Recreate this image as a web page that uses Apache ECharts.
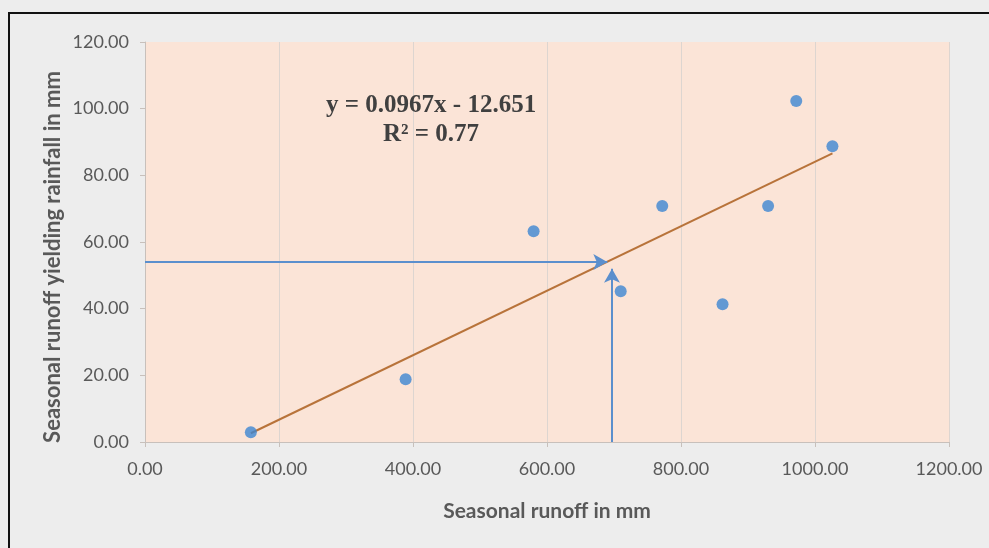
<!DOCTYPE html>
<html>
<head>
<meta charset="utf-8">
<script src="https://cdn.jsdelivr.net/npm/echarts@6/dist/echarts.min.js"></script>
<style>
  html, body { margin: 0; padding: 0; background: #ededed; }
  #chart { width: 989px; height: 548px; }
</style>
</head>
<body>
<div id="chart"></div>
<script>
// ---- data ----
var runoff   = [158, 389, 580, 710, 772, 862, 930, 972, 1026];
var rainfall = [2.9, 18.8, 63.2, 45.2, 70.8, 41.3, 70.8, 102.3, 88.7];
var xTicks = [0, 200, 400, 600, 800, 1000, 1200];
var yTicks = [0, 20, 40, 60, 80, 100, 120];
var slope = 0.0967, intercept = -12.651;
var trendX = [158, 1026];
var equationText = 'y = 0.0967x - 12.651';
var r2Text = 'R² = 0.77';
var xTitle = 'Seasonal runoff in mm';
var yTitle = 'Seasonal runoff yielding rainfall in mm';
var guideY = 54.0, guideXEnd = 690;      // horizontal reading arrow
var guideX = 697, guideYEnd = 52;        // vertical reading arrow

var points = runoff.map(function (x, i) { return [x, rainfall[i]]; });
var trend = trendX.map(function (x) { return [x, slope * x + intercept]; });

var chart = echarts.init(document.getElementById('chart'));
var labelFont = 'Lato, "Open Sans", sans-serif';
chart.setOption({
  backgroundColor: '#ededed',
  animation: false,
  grid: { left: 145, right: 40, top: 42, bottom: 106, show: true, backgroundColor: '#fbe4d7', borderWidth: 0 },
  xAxis: {
    type: 'value', min: 0, max: 1200, interval: 200,
    name: xTitle, nameLocation: 'middle', nameGap: 59,
    nameTextStyle: { fontFamily: labelFont, fontWeight: 'bold', fontSize: 21, color: '#595959' },
    axisLine: { show: true, lineStyle: { color: '#c8c0bb', width: 1 } },
    axisTick: { show: true, length: 5, lineStyle: { color: '#c8c0bb' } },
    axisLabel: { margin: 18, fontFamily: labelFont, fontSize: 18, color: '#595959',
      formatter: function (v) { return v.toFixed(2); } },
    splitLine: { show: true, lineStyle: { color: '#ddd5d0', width: 1 } }
  },
  yAxis: {
    type: 'value', min: 0, max: 120, interval: 20,
    axisLine: { show: true, lineStyle: { color: '#c8c0bb', width: 1 } },
    axisTick: { show: true, length: 5, lineStyle: { color: '#c8c0bb' } },
    axisLabel: { margin: 16, fontFamily: labelFont, fontSize: 18, color: '#595959',
      formatter: function (v) { return v.toFixed(2); } },
    splitLine: { show: false }
  },
  graphic: [
    { type: 'line', shape: { x1: 8, y1: 13, x2: 989, y2: 13 }, style: { stroke: '#111', lineWidth: 2 }, z: 100 },
    { type: 'line', shape: { x1: 9, y1: 12, x2: 9, y2: 548 }, style: { stroke: '#111', lineWidth: 2 }, z: 100 },
    { type: 'text', x: 53, y: 257, rotation: Math.PI / 2, z: 100,
      style: { text: yTitle, fontFamily: labelFont, fontWeight: 'bold', fontSize: 22, fill: '#595959',
        textAlign: 'center', textVerticalAlign: 'middle' } }
  ],
  series: [
    {
      type: 'line', data: trend, symbol: 'none', z: 3,
      lineStyle: { color: '#b8733a', width: 2 },
      markPoint: {
        symbol: 'circle', symbolSize: 2,
        itemStyle: { color: 'rgba(0,0,0,0)' },
        label: {
          show: true, position: 'inside', formatter: equationText + '\n' + r2Text,
          fontFamily: '"Liberation Serif", "DejaVu Serif", serif', fontWeight: 'bold',
          fontSize: 25, lineHeight: 29, color: '#404040', align: 'center'
        },
        data: [{ coord: [427, 96.5] }]
      }
    },
    {
      type: 'scatter', data: points, symbolSize: 12, z: 4,
      itemStyle: { color: '#3d86d2' },
      markLine: {
        silent: true, symbol: ['none', 'arrow'], symbolSize: [12, 14],
        label: { show: false },
        lineStyle: { color: '#5b8fcd', width: 2, type: 'solid' },
        data: [
          [{ coord: [0, guideY] }, { coord: [guideXEnd, guideY] }],
          [{ coord: [guideX, 0] }, { coord: [guideX, guideYEnd] }]
        ]
      }
    }
  ]
});
</script>
</body>
</html>
